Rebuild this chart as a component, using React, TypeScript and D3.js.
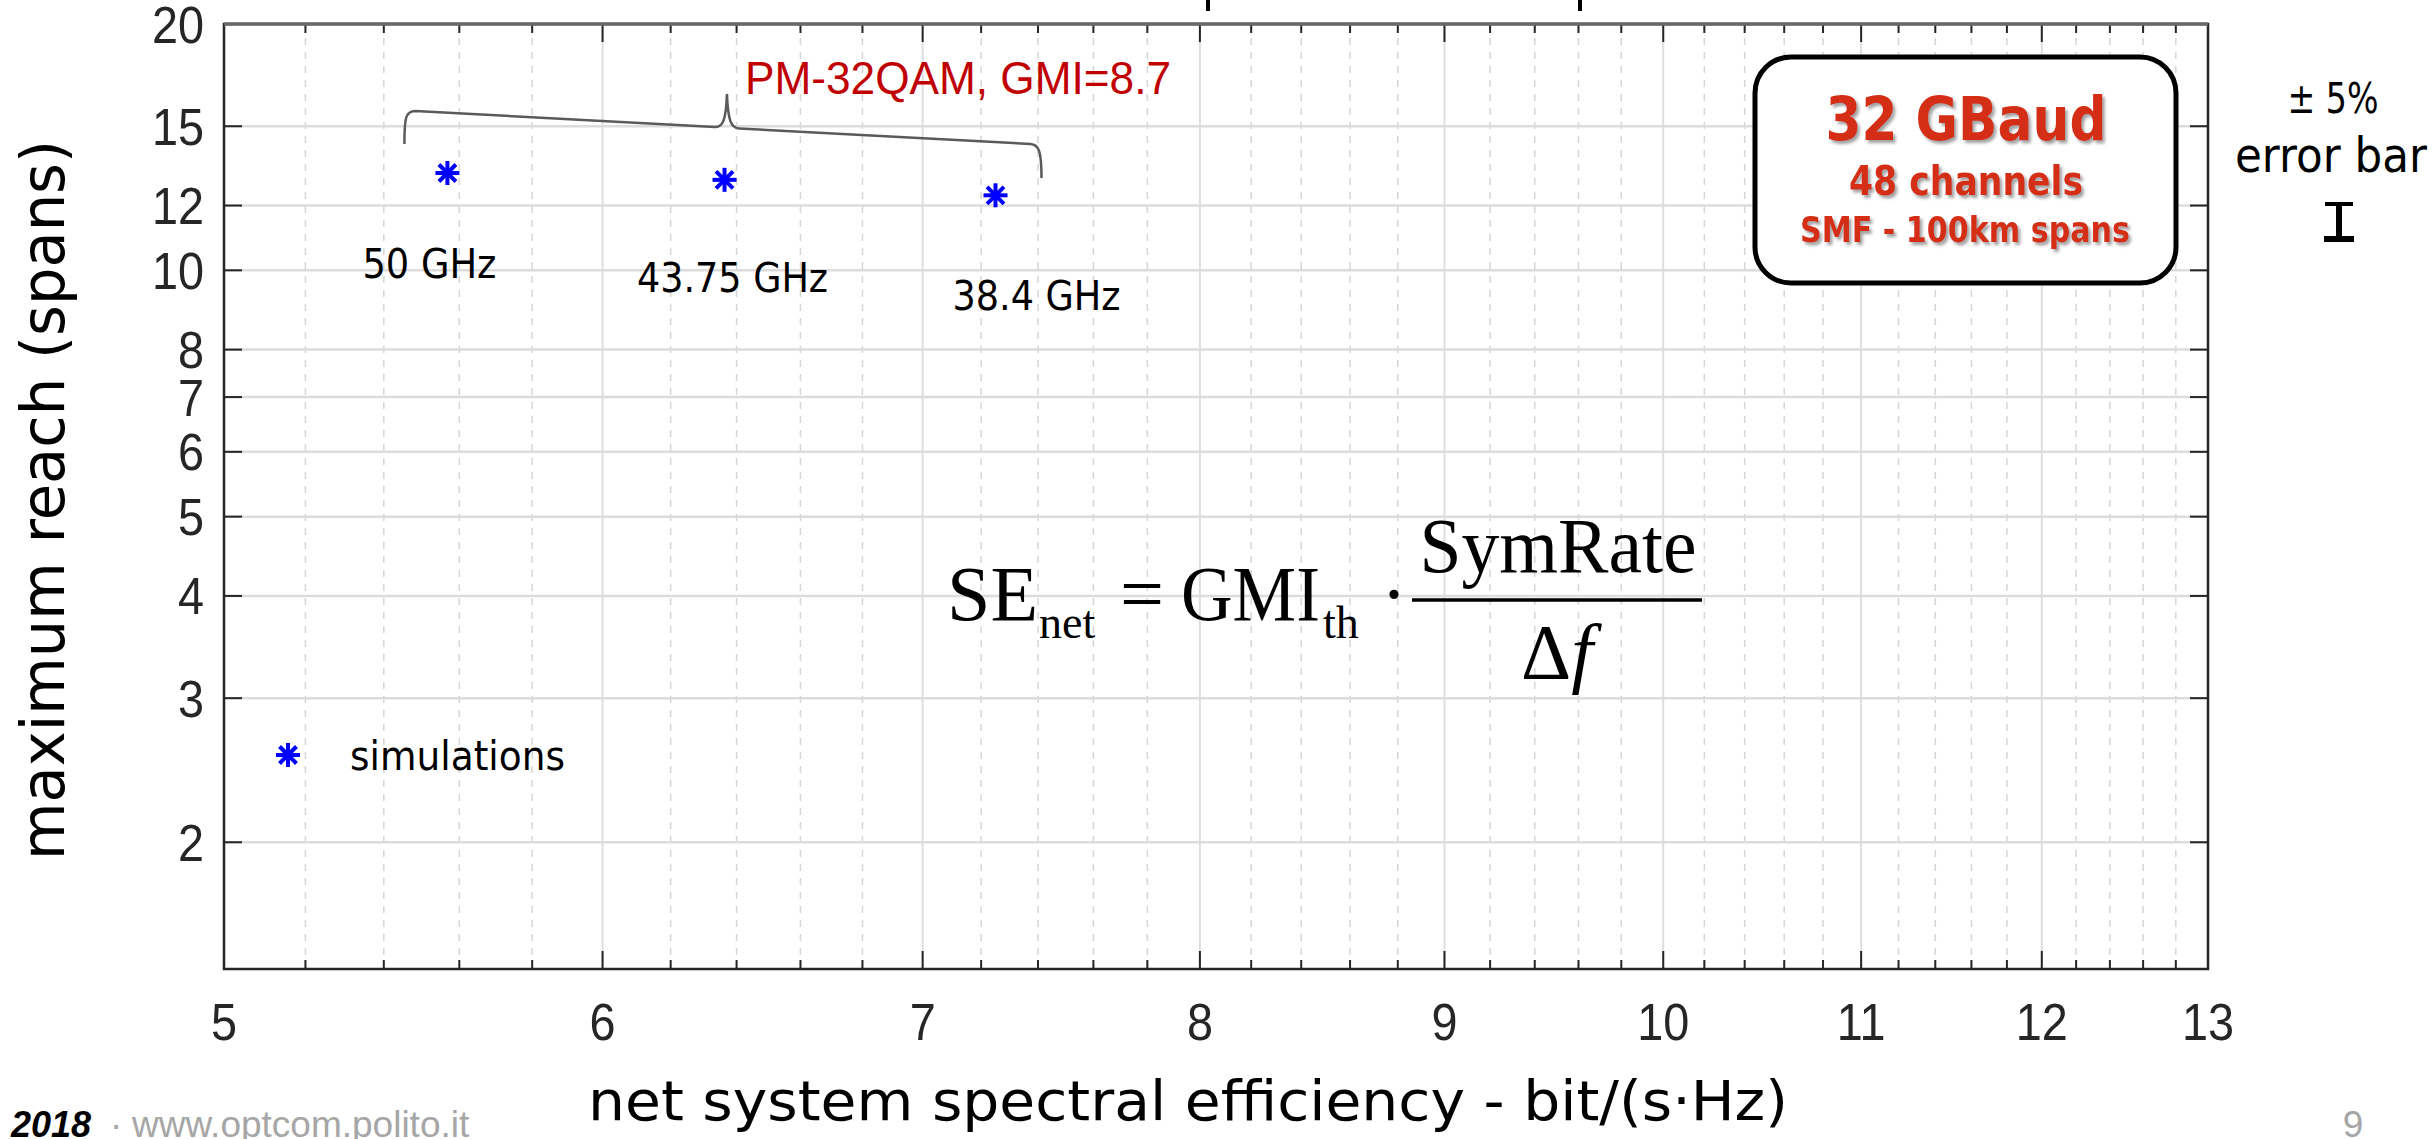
import React from "react";
import * as d3 from "d3";

// ---- data ----
const SE_NET = [5.568, 6.363, 7.25]; // bit/(s·Hz)
const REACH = [13.15, 12.9, 12.35]; // spans
const SPACING_LABELS = ["50 GHz", "43.75 GHz", "38.4 GHz"];
const X_TICKS = [5, 6, 7, 8, 9, 10, 11, 12, 13];
const Y_TICKS = [2, 3, 4, 5, 6, 7, 8, 10, 12, 15, 20];
const X_DOMAIN = [5, 13];
const Y_DOMAIN = [1.4, 20];
const X_MINOR = d3.range(5.2, 13, 0.2).filter((v) => Math.abs(v - Math.round(v)) > 0.05);

const W = 2433;
const H = 1139;
const L = 224, R = 2208, T = 24, B = 969;

const SANS = "'Liberation Sans', Arial, Helvetica, sans-serif";
const SLIDE = "'DejaVu Sans', Tahoma, Verdana, sans-serif";
const SERIF = "'Liberation Serif', 'Times New Roman', serif";
const AX = "#262626";

function Asterisk({ cx, cy, r = 12 }: { cx: number; cy: number; r?: number }) {
  const d = r * Math.SQRT1_2;
  return (
    <g stroke="#0000ff" strokeWidth={4} strokeLinecap="butt">
      <line x1={cx} y1={cy - r} x2={cx} y2={cy + r} />
      <line x1={cx - r} y1={cy} x2={cx + r} y2={cy} />
      <line x1={cx - d} y1={cy - d} x2={cx + d} y2={cy + d} />
      <line x1={cx - d} y1={cy + d} x2={cx + d} y2={cy - d} />
    </g>
  );
}

export default function App() {
  const x = d3.scaleLog().domain(X_DOMAIN).range([L, R]);
  const y = d3.scaleLog().domain(Y_DOMAIN).range([B, T]);

  const labelDx = [-18, 8, 41];
  const labelDy = [105, 112, 115];
  const labelLen = [134, 191, 168];

  const p0x = x(SE_NET[0]);
  const p2x = x(SE_NET[2]);
  const bl = p0x - 43; // brace left
  const br = p2x + 46; // brace right
  const tipX = (bl + br) / 2 + 4;
  const brace = `M${bl},144 C${bl},118 ${bl + 1},111 ${bl + 11},111 L${tipX - 12},127 C${tipX - 4},127.5 ${tipX - 1},120 ${tipX},94 C${tipX + 1},120 ${tipX + 4},128 ${tipX + 12},128.5 L${br - 11},144 C${br - 3},144.5 ${br},150 ${br},178`;

  return (
    <div style={{ position: "absolute", left: 0, top: 0 }}>
      <svg width={W} height={H} viewBox={`0 0 ${W} ${H}`} style={{ display: "block", background: "#fff" }}>
        <defs>
          <filter id="shadow" x="-10%" y="-20%" width="120%" height="150%">
            <feDropShadow dx="2.5" dy="3" stdDeviation="1.6" floodColor="#7a7a7a" floodOpacity="0.7" />
          </filter>
        </defs>
        <rect x={0} y={0} width={W} height={H} fill="#fff" />

        {/* cut-off title fragments */}
        <rect x={1206} y={0} width={4} height={11} fill="#000" />
        <rect x={1578} y={0} width={4} height={11} fill="#000" />

        {/* grid */}
        <g>
          {X_MINOR.map((v) => (
            <line key={"xm" + v} x1={x(v)} x2={x(v)} y1={T} y2={B} stroke="#d6d6d6" strokeWidth={1.5} strokeDasharray="7,7" />
          ))}
          {X_TICKS.map((v) => (
            <line key={"xg" + v} x1={x(v)} x2={x(v)} y1={T} y2={B} stroke="#dedede" strokeWidth={2} />
          ))}
          {Y_TICKS.map((v) => (
            <line key={"yg" + v} x1={L} x2={R} y1={y(v)} y2={y(v)} stroke="#dcdcdc" strokeWidth={2.5} />
          ))}
        </g>

        {/* ticks */}
        <g stroke={AX} strokeWidth={2}>
          {X_TICKS.map((v) => (
            <g key={"xt" + v}>
              <line x1={x(v)} x2={x(v)} y1={B} y2={B - 18} />
              <line x1={x(v)} x2={x(v)} y1={T} y2={T + 18} />
            </g>
          ))}
          {X_MINOR.map((v) => (
            <g key={"xmt" + v}>
              <line x1={x(v)} x2={x(v)} y1={B} y2={B - 9} />
              <line x1={x(v)} x2={x(v)} y1={T} y2={T + 9} />
            </g>
          ))}
          {Y_TICKS.map((v) => (
            <g key={"yt" + v}>
              <line x1={L} x2={L + 18} y1={y(v)} y2={y(v)} />
              <line x1={R} x2={R - 18} y1={y(v)} y2={y(v)} />
            </g>
          ))}
        </g>
        <rect x={L} y={T} width={R - L} height={B - T} fill="none" stroke={AX} strokeWidth={2.5} />
        <line x1={L} x2={R} y1={T} y2={T} stroke="#6a6a6a" strokeWidth={3.5} />

        {/* tick labels */}
        <g fontFamily={SANS} fontSize={52} fill={AX}>
          {X_TICKS.map((v) => (
            <text key={"xl" + v} transform={`translate(${x(v)},1040) scale(0.9,1)`} textAnchor="middle">{v}</text>
          ))}
          {Y_TICKS.map((v) => (
            <text key={"yl" + v} transform={`translate(204,${y(v) + 18.5}) scale(0.9,1)`} textAnchor="end">{v}</text>
          ))}
        </g>

        {/* axis titles */}
        <text x={1188} y={1120} fontFamily={SLIDE} fontSize={55} fill="#000" textAnchor="middle" textLength={1200} lengthAdjust="spacingAndGlyphs">
          net system spectral efficiency - bit/(s·Hz)
        </text>
        <text transform="translate(64,500) rotate(-90)" fontFamily={SLIDE} fontSize={60} fill="#000" textAnchor="middle" textLength={720} lengthAdjust="spacingAndGlyphs">
          maximum reach (spans)
        </text>

        {/* brace + red annotation */}
        <path d={brace} fill="none" stroke="#5a5a5a" strokeWidth={2.5} />
        <text x={745} y={94} fontFamily={SANS} fontSize={46} fill="#c00000" textLength={426} lengthAdjust="spacingAndGlyphs">PM-32QAM, GMI=8.7</text>

        {/* data */}
        {SE_NET.map((v, i) => (
          <Asterisk key={"pt" + i} cx={x(v)} cy={y(REACH[i])} />
        ))}
        {SE_NET.map((v, i) => (
          <text key={"lab" + i} x={x(v) + labelDx[i]} y={y(REACH[i]) + labelDy[i]} fontFamily={SLIDE} fontSize={41} fill="#000" textAnchor="middle" textLength={labelLen[i]} lengthAdjust="spacingAndGlyphs">
            {SPACING_LABELS[i]}
          </text>
        ))}

        {/* legend */}
        <Asterisk cx={288} cy={755} />
        <text x={350} y={770} fontFamily={SLIDE} fontSize={41} fill="#000" textLength={215} lengthAdjust="spacingAndGlyphs">simulations</text>

        {/* info box */}
        <rect x={1755} y={57} width={421} height={226} rx={36} ry={36} fill="#fff" stroke="#000" strokeWidth={5} />
        <g fontFamily={SLIDE} fontWeight="bold" fill="#d42e12" textAnchor="middle" filter="url(#shadow)">
          <text x={1966} y={140} fontSize={61} textLength={281} lengthAdjust="spacingAndGlyphs">32 GBaud</text>
          <text x={1966} y={195} fontSize={40} textLength={234} lengthAdjust="spacingAndGlyphs">48 channels</text>
          <text x={1965} y={242} fontSize={35} textLength={330} lengthAdjust="spacingAndGlyphs">SMF - 100km spans</text>
        </g>

        {/* error bar note */}
        <text x={2333} y={113} fontFamily={SLIDE} fontSize={42} fill="#000" textAnchor="middle" textLength={91} lengthAdjust="spacingAndGlyphs">± 5%</text>
        <text x={2331} y={172} fontFamily={SLIDE} fontSize={48} fill="#000" textAnchor="middle" textLength={192} lengthAdjust="spacingAndGlyphs">error bar</text>
        <g fill="#000">
          <rect x={2325} y={202} width={28} height={4} />
          <rect x={2336} y={202} width={6} height={38} />
          <rect x={2324} y={236} width={30} height={6} />
        </g>

        {/* equation */}
        <g fontFamily={SERIF} fill="#000">
          <text x={947} y={620} fontSize={78}>SE</text>
          <text x={1039} y={638} fontSize={46}>net</text>
          <text x={1120} y={620} fontSize={78}>=</text>
          <text x={1181} y={620} fontSize={78} textLength={139} lengthAdjust="spacingAndGlyphs">GMI</text>
          <text x={1323} y={638} fontSize={46}>th</text>
          <text x={1394} y={620} fontSize={78} textAnchor="middle">·</text>
          <line x1={1412} x2={1702} y1={600} y2={600} stroke="#000" strokeWidth={3.5} />
          <text x={1558} y={572} fontSize={78} textAnchor="middle" textLength={277} lengthAdjust="spacingAndGlyphs">SymRate</text>
          <text x={1557} y={678} fontSize={78} textAnchor="middle">
            <tspan>Δ</tspan>
            <tspan fontStyle="italic">f</tspan>
          </text>
        </g>

        {/* footer */}
        <text x={11} y={1137} fontFamily={SANS} fontSize={36} fontWeight="bold" fontStyle="italic" fill="#000">2018</text>
        <text x={110} y={1137} fontFamily={SANS} fontSize={37} fill="#a6a6a6">·</text>
        <text x={132} y={1137} fontFamily={SANS} fontSize={37} fill="#a6a6a6">www.optcom.polito.it</text>
        <text x={2353} y={1137} fontFamily={SANS} fontSize={37} fill="#a6a6a6" textAnchor="middle">9</text>
      </svg>
    </div>
  );
}
